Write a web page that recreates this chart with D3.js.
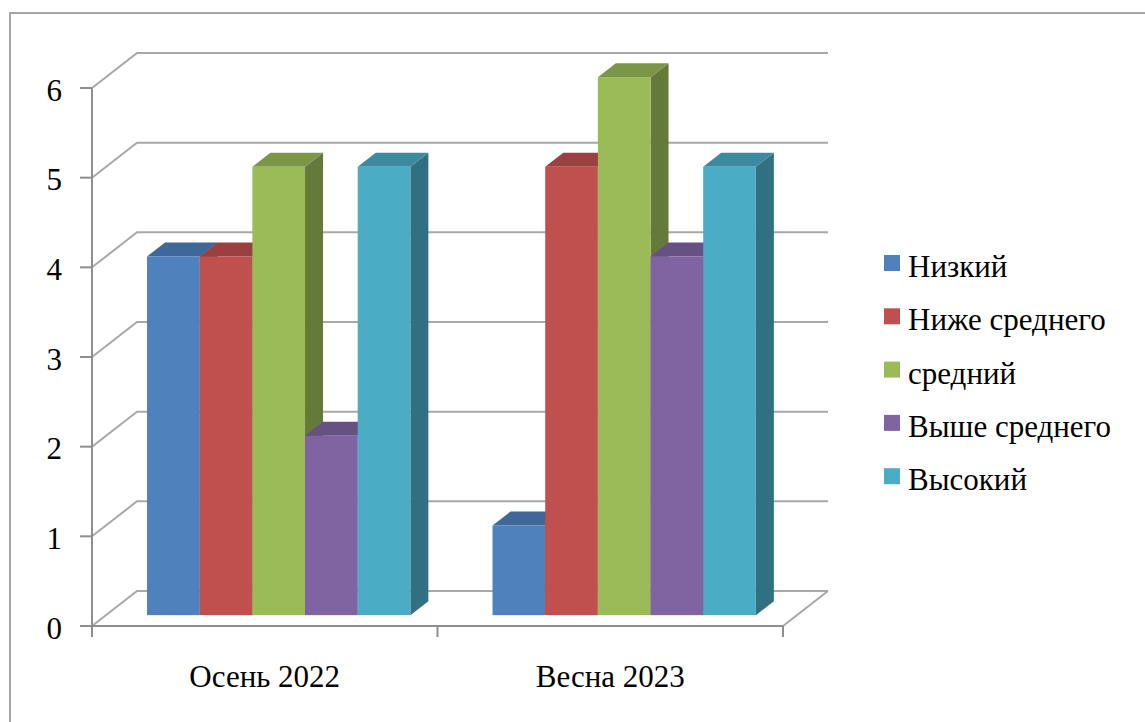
<!DOCTYPE html>
<html>
<head>
<meta charset="utf-8">
<script src="https://cdn.jsdelivr.net/npm/d3@7"></script>
<style>
  html, body { margin: 0; padding: 0; background: #ffffff; }
  svg { display: block; }
</style>
</head>
<body>
<svg id="chart" width="1145" height="722"></svg>
<script>
// Categories (x axis) and series
const categories = ["Осень 2022", "Весна 2023"];
const seriesNames = ["Низкий", "Ниже среднего", "средний", "Выше среднего", "Высокий"];
const seriesColors = ["#4F81BD", "#C0504D", "#9BBB59", "#8064A2", "#4BACC6"];

// Values per series, one per category
const nizkiy        = [4, 1];
const nizheSrednego = [4, 5];
const sredniy       = [5, 6];
const vysheSrednego = [2, 4];
const vysokiy       = [5, 5];
const seriesValues = [nizkiy, nizheSrednego, sredniy, vysheSrednego, vysokiy];

const yTicks = [0, 1, 2, 3, 4, 5, 6];

const FONT = "'Liberation Serif', 'Times New Roman', Tinos, 'DejaVu Serif', 'Noto Serif', serif";

// ---- layout ----
const svg = d3.select("#chart");
const W = 1145, H = 722;

// front plane of the 3D box
const plot = { left: 92, right: 783, top: 88, bottom: 626 };
// depth vector of the box (front -> back)
const depth = { dx: 45, dy: -35 };
// bars sit between these depth fractions
const barFront = 0.31, barBack = 0.71;

const y = d3.scaleLinear().domain([0, 6]).range([plot.bottom, plot.top]);
const x0 = d3.scaleBand().domain(categories).range([plot.left, plot.right]);
const x1 = d3.scaleBand().domain(seriesNames)
  .range([0, x0.bandwidth()]).paddingOuter(0.78).paddingInner(0);

// outer chart border
svg.append("rect")
  .attr("x", 10).attr("y", 13)
  .attr("width", W + 20).attr("height", H + 20)
  .attr("fill", "none").attr("stroke", "#a6a6a6").attr("stroke-width", 2);

const gridColor = "#a8a8a8";
const axisColor = "#8e8e8e";

// back wall + floor gridlines (front edge -> back edge -> across)
const grid = svg.append("g");
yTicks.forEach(t => {
  const yy = y(t);
  grid.append("polyline")
    .attr("points", [
      [plot.left, yy],
      [plot.left + depth.dx, yy + depth.dy],
      [plot.right + depth.dx, yy + depth.dy]
    ].map(p => p.join(",")).join(" "))
    .attr("fill", "none")
    .attr("stroke", gridColor)
    .attr("stroke-width", 2);
});
// floor right edge
grid.append("line")
  .attr("x1", plot.right).attr("y1", plot.bottom)
  .attr("x2", plot.right + depth.dx).attr("y2", plot.bottom + depth.dy)
  .attr("stroke", gridColor).attr("stroke-width", 2);

// bars: drawn left to right so each front face hides its neighbour's side
const bars = svg.append("g");
const fx = depth.dx * barFront, fy = depth.dy * barFront;
const bdx = depth.dx * (barBack - barFront), bdy = depth.dy * (barBack - barFront);

categories.forEach((cat, ci) => {
  seriesNames.forEach((name, si) => {
    const v = seriesValues[si][ci];
    const base = d3.color(seriesColors[si]);
    const xl = x0(cat) + x1(name) + fx;
    const xr = xl + x1.bandwidth();
    const yb = y(0) + fy;
    const yt = y(v) + fy;
    const poly = pts => pts.map(p => p.join(",")).join(" ");
    // side face
    bars.append("polygon")
      .attr("points", poly([[xr, yt], [xr + bdx, yt + bdy], [xr + bdx, yb + bdy], [xr, yb]]))
      .attr("fill", base.darker(1.2).formatHex());
    // top face
    bars.append("polygon")
      .attr("points", poly([[xl, yt], [xl + bdx, yt + bdy], [xr + bdx, yt + bdy], [xr, yt]]))
      .attr("fill", base.darker(0.62).formatHex());
    // front face
    bars.append("rect")
      .attr("x", xl).attr("y", yt)
      .attr("width", x1.bandwidth()).attr("height", yb - yt)
      .attr("fill", base.formatHex());
  });
});

// value axis (front left edge)
const axis = svg.append("g");
axis.append("line")
  .attr("x1", plot.left).attr("y1", plot.top)
  .attr("x2", plot.left).attr("y2", plot.bottom + 11)
  .attr("stroke", axisColor).attr("stroke-width", 2);
yTicks.forEach(t => {
  axis.append("line")
    .attr("x1", plot.left - 12).attr("x2", plot.left)
    .attr("y1", y(t)).attr("y2", y(t))
    .attr("stroke", axisColor).attr("stroke-width", 2);
  axis.append("text")
    .attr("x", 62).attr("y", y(t) + 12.5)
    .attr("text-anchor", "end")
    .attr("font-family", FONT)
    .attr("font-size", 31)
    .text(t);
});

// category axis (front floor edge)
axis.append("line")
  .attr("x1", plot.left).attr("y1", plot.bottom)
  .attr("x2", plot.right).attr("y2", plot.bottom)
  .attr("stroke", axisColor).attr("stroke-width", 2);
[plot.left, x0(categories[1]), plot.right].forEach(xx => {
  axis.append("line")
    .attr("x1", xx).attr("x2", xx)
    .attr("y1", plot.bottom).attr("y2", plot.bottom + 11)
    .attr("stroke", axisColor).attr("stroke-width", 2);
});
categories.forEach(cat => {
  axis.append("text")
    .attr("x", x0(cat) + x0.bandwidth() / 2)
    .attr("y", 687)
    .attr("text-anchor", "middle")
    .attr("font-family", FONT)
    .attr("font-size", 31)
    .text(cat);
});

// legend
const legend = svg.append("g").attr("transform", "translate(884,263)");
seriesNames.forEach((name, i) => {
  const g = legend.append("g").attr("transform", `translate(0,${i * 53.3})`);
  g.append("rect")
    .attr("x", 0).attr("y", -8)
    .attr("width", 16).attr("height", 16)
    .attr("fill", seriesColors[i]);
  g.append("text")
    .attr("x", 24).attr("y", 14)
    .attr("font-family", FONT)
    .attr("font-size", 31)
    .text(name);
});
</script>
</body>
</html>
